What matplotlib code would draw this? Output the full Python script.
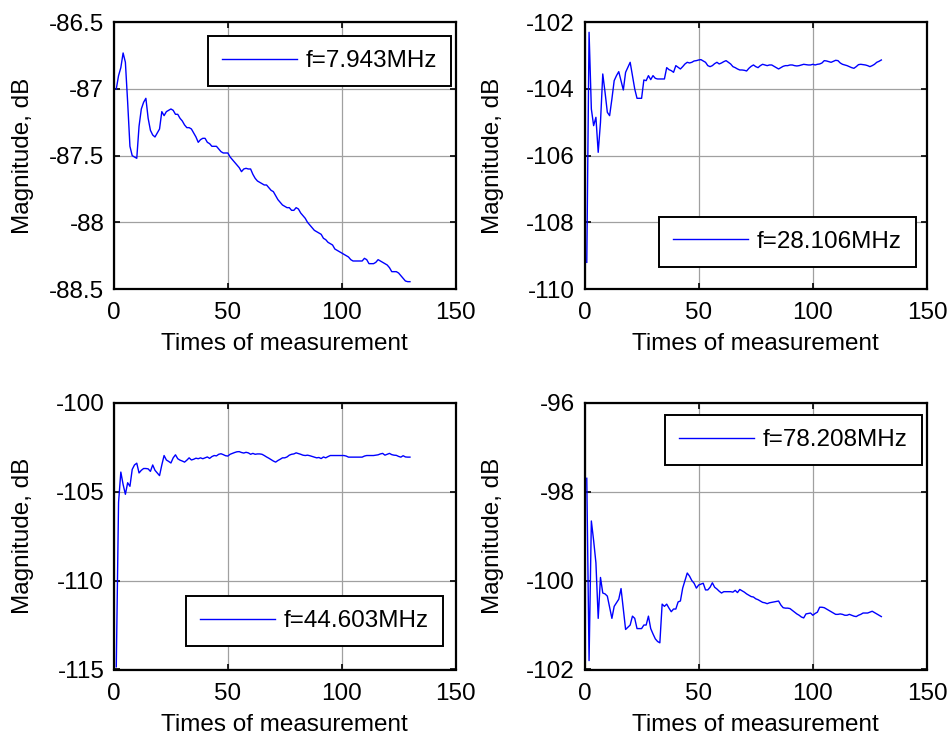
import numpy as np
import matplotlib
matplotlib.use("Agg")
import matplotlib.pyplot as plt

plt.rcParams['font.family'] = ['Liberation Sans', 'DejaVu Sans']
plt.rcParams['axes.unicode_minus'] = False

# measurement index (1..130)
n_meas = np.arange(1, 131)

mag_7943 = [
    -87.00, -86.90, -86.84, -86.73, -86.80, -87.10, -87.43, -87.50, -87.51, -87.52,
    -87.28, -87.15, -87.10, -87.07, -87.22, -87.31, -87.345, -87.36, -87.33, -87.30,
    -87.17, -87.20, -87.17, -87.16, -87.15, -87.16, -87.19, -87.19, -87.22, -87.24,
    -87.27, -87.29, -87.29, -87.30, -87.33, -87.36, -87.40, -87.38, -87.37, -87.37,
    -87.40, -87.41, -87.43, -87.43, -87.43, -87.45, -87.47, -87.48, -87.48, -87.48,
    -87.51, -87.53, -87.55, -87.57, -87.59, -87.62, -87.60, -87.595, -87.60, -87.60,
    -87.64, -87.67, -87.69, -87.70, -87.71, -87.72, -87.72, -87.74, -87.76, -87.77,
    -87.80, -87.83, -87.85, -87.87, -87.88, -87.89, -87.89, -87.91, -87.91, -87.89,
    -87.90, -87.93, -87.95, -87.97, -88.00, -88.02, -88.04, -88.06, -88.07, -88.08,
    -88.09, -88.12, -88.13, -88.15, -88.16, -88.17, -88.20, -88.21, -88.22, -88.23,
    -88.24, -88.25, -88.26, -88.28, -88.29, -88.29, -88.29, -88.29, -88.29, -88.27,
    -88.28, -88.31, -88.31, -88.31, -88.30, -88.28, -88.29, -88.30, -88.31, -88.32,
    -88.34, -88.37, -88.37, -88.37, -88.38, -88.40, -88.42, -88.44, -88.445, -88.445,
]

mag_28106 = [
    -109.2, -102.3, -104.6, -105.1, -104.85, -105.9, -105.0, -103.55, -104.1, -104.7,
    -104.8, -104.3, -103.75, -103.6, -103.48, -103.75, -104.03, -103.5, -103.35, -103.2,
    -103.6, -104.0, -104.28, -104.28, -104.28, -103.73, -103.75, -103.6, -103.72, -103.6,
    -103.68, -103.7, -103.7, -103.7, -103.7, -103.36, -103.42, -103.45, -103.5, -103.3,
    -103.35, -103.4, -103.33, -103.25, -103.2, -103.22, -103.2, -103.16, -103.15, -103.13,
    -103.12, -103.16, -103.2, -103.3, -103.33, -103.3, -103.24, -103.2, -103.25, -103.22,
    -103.18, -103.15, -103.2, -103.25, -103.33, -103.36, -103.4, -103.43, -103.43, -103.44,
    -103.46, -103.38, -103.32, -103.28, -103.33, -103.36, -103.3, -103.26, -103.28, -103.3,
    -103.28, -103.28, -103.32, -103.36, -103.40, -103.36, -103.32, -103.30, -103.30, -103.28,
    -103.28, -103.30, -103.31, -103.30, -103.28, -103.26, -103.27, -103.28, -103.28, -103.26,
    -103.28, -103.26, -103.25, -103.22, -103.15, -103.16, -103.18, -103.20, -103.17, -103.14,
    -103.15, -103.22, -103.26, -103.28, -103.30, -103.33, -103.36, -103.38, -103.33, -103.27,
    -103.26, -103.27, -103.28, -103.30, -103.33, -103.30, -103.26, -103.20, -103.17, -103.13,
]

mag_44603 = [
    -114.85, -105.6, -103.9, -104.6, -105.15, -104.5, -104.7, -103.75, -103.5, -103.4,
    -103.95, -103.8, -103.7, -103.7, -103.72, -103.86, -103.5, -103.8, -103.95, -104.1,
    -103.5, -102.97, -103.22, -103.3, -103.39, -103.1, -102.93, -103.15, -103.23, -103.28,
    -103.34, -103.23, -103.1, -103.22, -103.18, -103.12, -103.15, -103.1, -103.15, -103.1,
    -103.05, -103.13, -103.03, -102.97, -102.99, -102.9, -102.87, -102.92, -102.98, -103.0,
    -102.9, -102.85, -102.8, -102.76, -102.75, -102.8, -102.83, -102.79, -102.82, -102.9,
    -102.85, -102.9, -102.88, -102.88, -102.9, -102.97, -103.05, -103.12, -103.2, -103.28,
    -103.34, -103.25, -103.18, -103.1, -103.1, -103.05, -102.95, -102.9, -102.88, -102.82,
    -102.86, -102.9, -102.95, -102.97, -102.95, -102.98, -103.02, -103.06, -103.1, -103.08,
    -103.14, -103.05, -103.1, -103.03, -102.97, -102.97, -102.97, -102.97, -102.97, -102.97,
    -102.97, -103.0, -103.06, -103.06, -103.06, -103.06, -103.06, -103.06, -103.06, -103.0,
    -102.97, -102.97, -102.97, -102.97, -102.95, -102.93, -102.88, -102.85, -102.95, -102.9,
    -102.85, -102.92, -102.95, -102.96, -103.02, -103.06, -102.98, -103.05, -103.06, -103.06,
]

mag_78208 = [
    -97.7, -101.8, -98.66, -99.1, -99.6, -100.85, -99.93, -100.28, -100.3, -100.35,
    -100.6, -100.85, -100.58, -100.5, -100.42, -100.18, -100.64, -101.1, -101.05, -101.0,
    -100.8, -100.85, -101.08, -101.08, -101.08, -101.0, -101.0, -100.8, -101.08, -101.2,
    -101.31, -101.37, -101.4, -100.53, -100.58, -100.53, -100.62, -100.7, -100.64, -100.64,
    -100.48, -100.46, -100.17, -100.0, -99.83, -99.9, -100.0, -100.06, -100.17, -100.1,
    -100.08, -100.06, -100.21, -100.21, -100.15, -100.05, -100.15, -100.19, -100.24, -100.28,
    -100.25, -100.25, -100.25, -100.25, -100.26, -100.22, -100.27, -100.2, -100.23, -100.26,
    -100.3, -100.33, -100.36, -100.37, -100.41, -100.43, -100.46, -100.49, -100.5, -100.52,
    -100.5, -100.49, -100.48, -100.47, -100.46, -100.55, -100.61, -100.62, -100.62, -100.63,
    -100.67, -100.71, -100.75, -100.78, -100.82, -100.84, -100.75, -100.74, -100.73, -100.78,
    -100.74, -100.71, -100.6, -100.6, -100.61, -100.64, -100.67, -100.7, -100.73, -100.76,
    -100.76, -100.75, -100.76, -100.78, -100.78, -100.76, -100.78, -100.8, -100.81, -100.78,
    -100.76, -100.73, -100.73, -100.73, -100.71, -100.69, -100.72, -100.75, -100.78, -100.81,
]

labels = ['f=7.943MHz', 'f=28.106MHz', 'f=44.603MHz', 'f=78.208MHz']
series = [mag_7943, mag_28106, mag_44603, mag_78208]
ylims = [(-88.5, -86.5), (-110, -102), (-115, -100), (-102, -96)]
yticks = [
    [-88.5, -88, -87.5, -87, -86.5],
    [-110, -108, -106, -104, -102],
    [-115, -110, -105, -100],
    [-102, -100, -98, -96],
]
ytick_labels = [
    ['-88.5', '-88', '-87.5', '-87', '-86.5'],
    ['-110', '-108', '-106', '-104', '-102'],
    ['-115', '-110', '-105', '-100'],
    ['-102', '-100', '-98', '-96'],
]
xticks = [0, 50, 100, 150]

# axes rectangles in figure fractions
W, H = 951, 738
boxes = [
    (114, 22.3, 455.5, 289),
    (584.5, 22.3, 927, 289),
    (114, 402.7, 455.5, 669.5),
    (584.5, 402.7, 927, 669.5),
]
legend_anchor = [(0.987, 0.949), (0.967, 0.271), (0.964, 0.275), (0.9845, 0.953)]

FS = 17.5
fig = plt.figure(figsize=(W / 100, H / 100), dpi=100)
fig.patch.set_facecolor('white')

for k in range(4):
    l, t, r, b = boxes[k]
    ax = fig.add_axes([l / W, 1 - b / H, (r - l) / W, (b - t) / H])
    ax.plot(n_meas, series[k], color='#0000ff', lw=1.0, label=labels[k])
    ax.set_xlim(0, 150)
    ax.set_ylim(*ylims[k])
    ax.set_xticks(xticks)
    ax.set_xticklabels([str(v) for v in xticks])
    ax.set_yticks(yticks[k])
    ax.set_yticklabels(ytick_labels[k])
    ax.grid(True, color='#a0a0a0', lw=0.9, ls='-')
    ax.set_axisbelow(True)
    for sp in ax.spines.values():
        sp.set_linewidth(1.6)
        sp.set_color('black')
    ax.tick_params(direction='in', length=4, width=1.2, top=True, right=True,
                   labelsize=FS)
    ax.tick_params(axis='x', pad=9.5)
    ax.tick_params(axis='y', pad=7)
    ax.set_xlabel('Times of measurement', fontsize=FS, labelpad=6.5)
    ax.set_ylabel('Magnitude, dB', fontsize=FS)
    ax.yaxis.set_label_coords(-0.235, 0.5)
    leg = ax.legend(loc='upper right', bbox_to_anchor=legend_anchor[k],
                    fontsize=FS, frameon=True, fancybox=False, shadow=False,
                    handlelength=3.1, handletextpad=0.35, borderpad=0.58,
                    borderaxespad=0.0)
    leg.get_frame().set_edgecolor('black')
    leg.get_frame().set_linewidth(1.4)
    leg.get_frame().set_alpha(1.0)

fig.savefig('out.png', dpi=100, facecolor='white')
